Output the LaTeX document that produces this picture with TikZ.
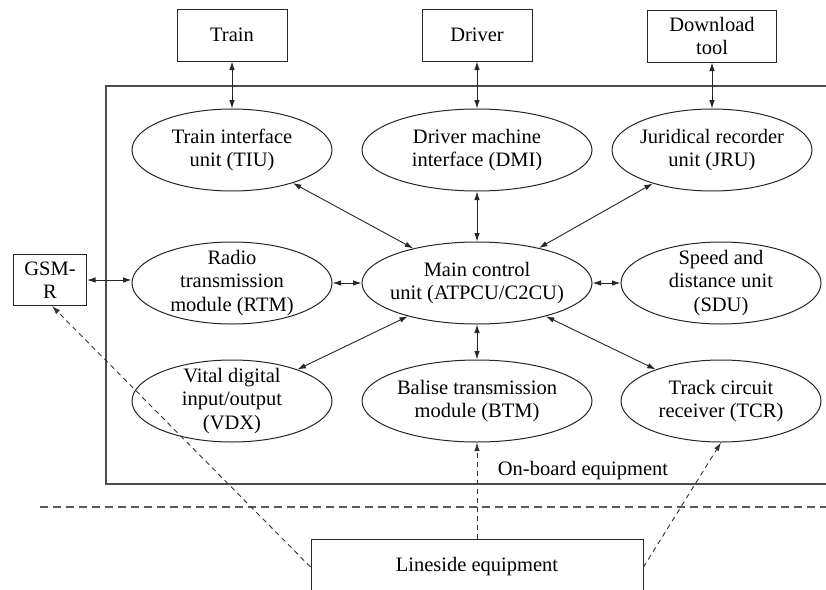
\documentclass[tikz,border=0pt]{standalone}
\usepackage{fontspec}
\setmainfont{Liberation Serif}
\usetikzlibrary{shapes.geometric,arrows.meta}
\begin{document}
\begin{tikzpicture}[x=1pt,y=-1pt,
  font=\fontsize{20.5}{23.5}\selectfont,
  >={Latex[length=8.5pt,width=5.5pt]},
  box/.style={draw=black!85, line width=1pt, rectangle, minimum height=52pt, inner sep=0pt, align=center},
  ell/.style={draw=black!85, line width=1pt, ellipse, inner sep=0pt, minimum height=82pt},
  lbl/.style={align=center, inner sep=0pt},
  conn/.style={<->, line width=0.9pt, draw=black!85},
  dconn/.style={->, line width=0.9pt, draw=black!80, dash pattern=on 5pt off 4pt},
  framebox/.style={draw=black!70, line width=1.3pt},
  hdash/.style={draw=black!65, line width=1.2pt, dash pattern=on 8pt off 5pt}]
\clip (0,0) rectangle (826,589);
% top boxes
\node[box, minimum width=110pt] (train) at (232,35) {Train};
\node[box, minimum width=110pt] (driver) at (477,35) {Driver};
\node[box, minimum width=129pt] (dl) at (712,36) {Download\\tool};
% on-board frame
\draw[framebox] (106,86) rectangle (840,484);
\node[lbl] (ob) at (583,471) {On-board equipment};
% ellipses
\node[ell, minimum width=200pt, label={[lbl]center:{Train interface\\unit (TIU)}}] (tiu) at (232,150) {};
\node[ell, minimum width=230pt, label={[lbl]center:{Driver machine\\interface (DMI)}}] (dmi) at (477,150) {};
\node[ell, minimum width=200pt, label={[lbl]center:{Juridical recorder\\unit (JRU)}}] (jru) at (712,150) {};
\node[ell, minimum width=200pt, label={[lbl]center:{Radio\\transmission\\module (RTM)}}] (rtm) at (232,283) {};
\node[ell, minimum width=230pt, label={[lbl]center:{Main control\\unit (ATPCU/C2CU)}}] (mcu) at (477,283) {};
\node[ell, minimum width=200pt, label={[lbl]center:{Speed and\\distance unit\\(SDU)}}] (sdu) at (721,283) {};
\node[ell, minimum width=200pt, label={[lbl]center:{Vital digital\\input/output\\(VDX)}}] (vdx) at (232,401) {};
\node[ell, minimum width=230pt, label={[lbl]center:{Balise transmission\\module (BTM)}}] (btm) at (477,401) {};
\node[ell, minimum width=200pt, label={[lbl]center:{Track circuit\\receiver (TCR)}}] (tcr) at (721,401) {};
% GSM-R and lineside
\node[box, minimum width=73pt, minimum height=51pt] (gsm) at (50,280) {GSM-\\R};
\node[box, minimum width=332pt, minimum height=56pt] (ls) at (477,567) {Lineside equipment};
% dashed separator
\coordinate (sepL) at (40,507);
\coordinate (sepR) at (840,507);
\draw[hdash] (sepL) -- (sepR);
% connectors
\draw[conn] (train) -- (tiu);
\draw[conn] (driver) -- (dmi);
\draw[conn] (dl) -- (jru);
\draw[conn] (mcu) -- (tiu);
\draw[conn] (mcu) -- (dmi);
\draw[conn] (mcu) -- (jru);
\draw[conn] (mcu) -- (rtm);
\draw[conn] (mcu) -- (sdu);
\draw[conn] (mcu) -- (vdx);
\draw[conn] (mcu) -- (btm);
\draw[conn] (mcu) -- (tcr);
\draw[conn] (gsm.east) -- (gsm.east -| rtm.west);
% dashed connectors from lineside
\draw[dconn] (ls.north) -- (btm.south);
\draw[dconn] (ls.west) -- ([xshift=2pt]gsm.south);
\draw[dconn] (ls.east) -- (tcr.south);
\end{tikzpicture}
\end{document}
